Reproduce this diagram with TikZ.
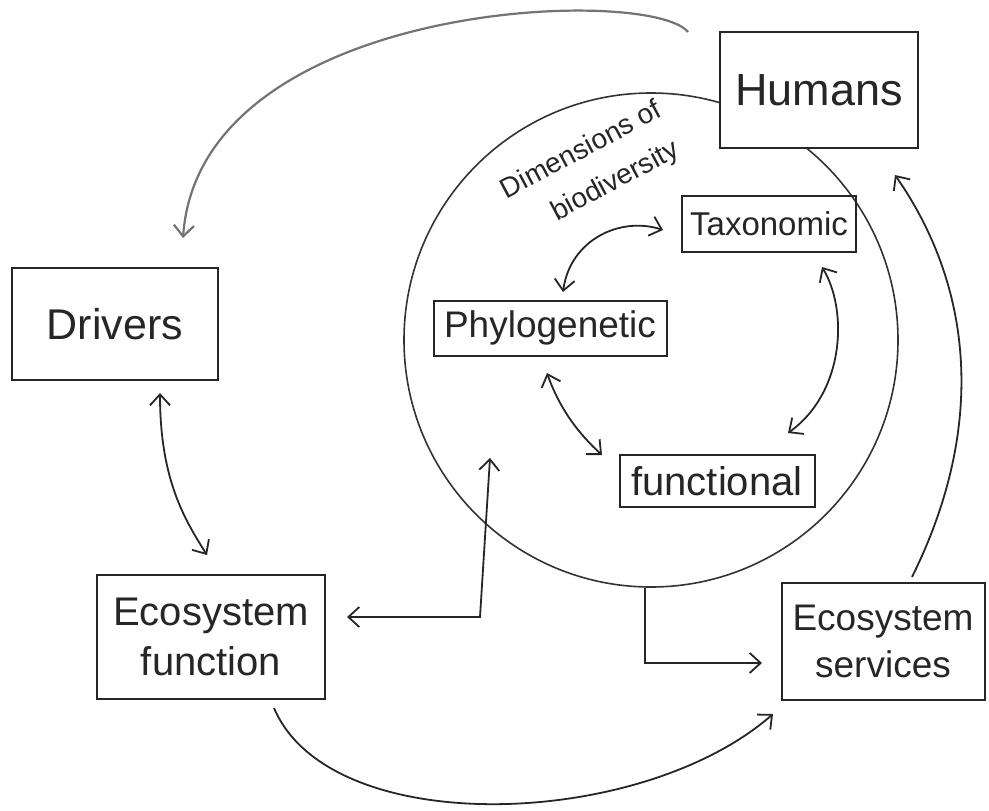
\documentclass[tikz,border=0pt]{standalone}
\usepackage{fontspec}
\setmainfont{Liberation Sans}
\usetikzlibrary{arrows.meta}
\begin{document}
\begin{tikzpicture}[x=1pt,y=-1pt,
  box/.style={draw=black!85, line width=2pt, inner sep=0pt, align=center, text=black!85},
  ring/.style={circle, draw=black!80, line width=1.6pt, inner sep=0pt, minimum size=494pt},
  link/.style={draw=black!85, line width=1.8pt},
  pencil/.style={draw=black!55, line width=2.2pt},
  >={Straight Barb[length=11pt,width=20pt]},
  dimtext/.style={rotate=28, text=black!85, align=left, inner sep=0pt, font=\fontsize{28}{43}\selectfont}
]
\useasboundingbox (0,0) rectangle (989,811);

% circle of dimensions of biodiversity
\node[ring] (dim) at (651,340) {};

% boxes
\node[box, fill=white, minimum width=198pt, minimum height=116pt, font=\fontsize{45}{50}\selectfont] (hum) at (819,90) {Humans};
\node[box, minimum width=206pt, minimum height=112pt, font=\fontsize{43}{48}\selectfont] (drv) at (115,324) {Drivers};
\node[box, minimum width=228pt, minimum height=124pt, font=\fontsize{40}{50}\selectfont] (ef) at (211,637) {Ecosystem\\function};
\node[box, minimum width=203pt, minimum height=117pt, font=\fontsize{37}{47}\selectfont] (es) at (883,641) {Ecosystem\\services};
\node[box, minimum width=174pt, minimum height=56pt, font=\fontsize{33}{36}\selectfont] (tax) at (769,224) {Taxonomic};
\node[box, minimum width=233pt, minimum height=55pt, font=\fontsize{37}{40}\selectfont] (phy) at (550,328) {Phylogenetic};
\node[box, minimum width=195pt, minimum height=52pt, font=\fontsize{40}{43}\selectfont] (fun) at (717,481) {functional};

% label of the circle
\node[dimtext] (dt) at (592,170) {Dimensions of\\\hspace*{34pt}biodiversity};

% connector end points
\coordinate (h1) at (688,32);
\coordinate (d1) at (183,238);
\coordinate (d2) at (160,393);
\coordinate (e1) at (207,555);
\coordinate (e2) at (347,617);
\coordinate (k1) at (480,617);
\coordinate (p1) at (490,458);
\coordinate (c1) at (645,588);
\coordinate (k2) at (645,663);
\coordinate (s1) at (762,663);
\coordinate (e3) at (274,708);
\coordinate (s2) at (773,714);
\coordinate (s3) at (912,577);
\coordinate (h2) at (895,175);
\coordinate (t1) at (663,230);
\coordinate (p2) at (563,292);
\coordinate (p3) at (547,373);
\coordinate (f1) at (602,455);
\coordinate (t2) at (822,267);
\coordinate (f2) at (788,433);

% Humans -> Drivers (pencil)
\draw[pencil, ->] (h1) .. controls (650,-15) and (200,0) .. (d1);
% Drivers <-> Ecosystem function
\draw[link, <->] (d2) .. controls (160,480) and (185,520) .. (e1);
% Ecosystem function <-> circle
\draw[link, <->] (e2) -- (k1) -- (p1);
% circle -> Ecosystem services
\draw[link, ->] (c1) -- (k2) -- (s1);
% Ecosystem function -> Ecosystem services
\draw[link, ->] (e3) .. controls (330,840) and (640,830) .. (s2);
% Ecosystem services -> Humans
\draw[link, ->] (s3) .. controls (985,430) and (975,290) .. (h2);
% Taxonomic <-> Phylogenetic
\draw[link, <->] (t1) .. controls (620,216) and (570,240) .. (p2);
% Phylogenetic <-> functional
\draw[link, <->] (p3) .. controls (560,410) and (580,435) .. (f1);
% Taxonomic <-> functional
\draw[link, <->] (t2) .. controls (848,310) and (845,392) .. (f2);
\end{tikzpicture}
\end{document}
